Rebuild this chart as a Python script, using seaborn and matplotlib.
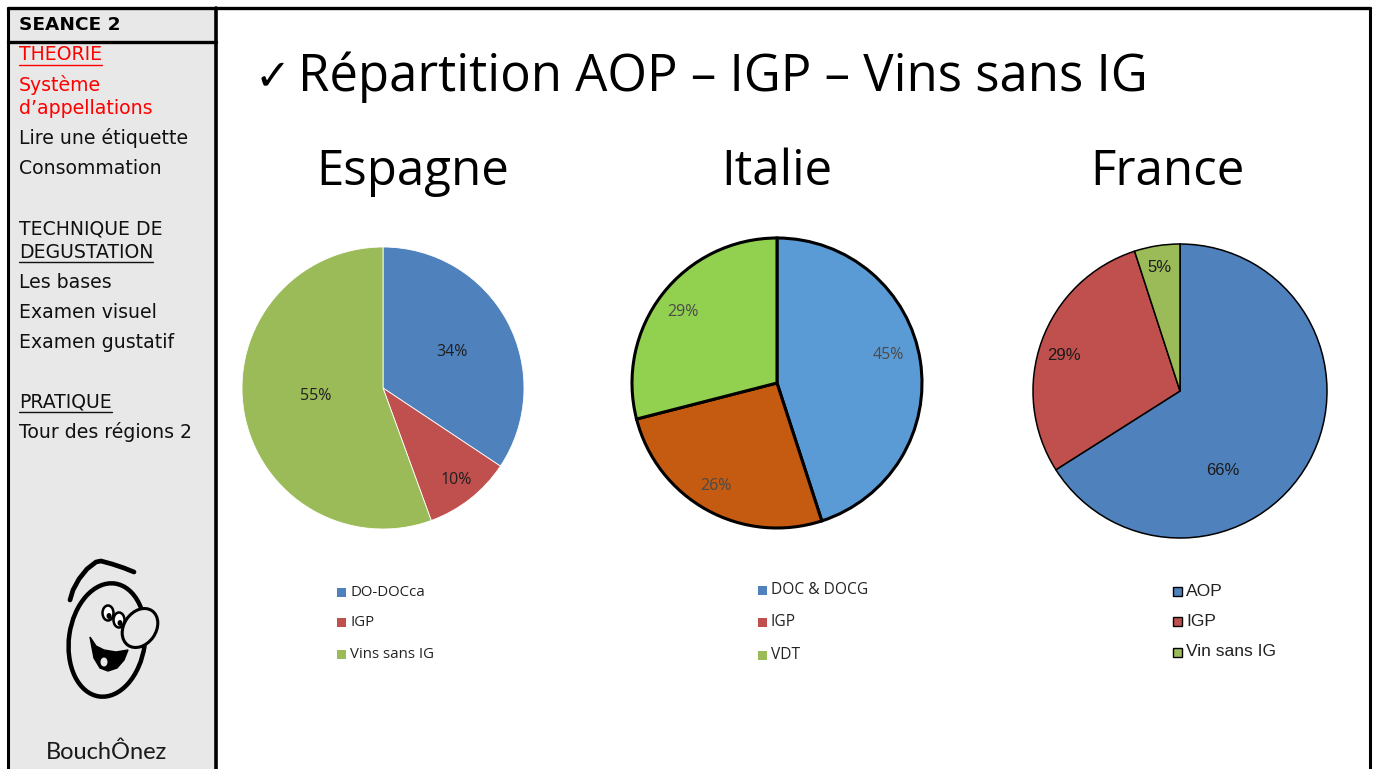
import matplotlib
matplotlib.use("Agg")
import matplotlib.pyplot as plt
from matplotlib.patches import Rectangle, Ellipse, Arc, Polygon
import seaborn as sns

sns.set_theme(style="white")
plt.rcParams['font.family'] = ['DejaVu Sans']

# ---- data ----
countries = ["Espagne", "Italie", "France"]
esp_labels = ["DO-DOCca", "IGP", "Vins sans IG"]
esp_values = [34, 10, 55]
ita_labels = ["DOC & DOCG", "IGP", "VDT"]
ita_values = [45, 26, 29]
fra_labels = ["AOP", "IGP", "Vin sans IG"]
fra_values = [66, 29, 5]

menu_items = [
    ("THEORIE", "red", True),
    ("Système", "red", False),
    ("d’appellations", "red", False),
    ("Lire une étiquette", "#111111", False),
    ("Consommation", "#111111", False),
    ("TECHNIQUE DE", "#111111", False),
    ("DEGUSTATION", "#111111", True),
    ("Les bases", "#111111", False),
    ("Examen visuel", "#111111", False),
    ("Examen gustatif", "#111111", False),
    ("PRATIQUE", "#111111", True),
    ("Tour des régions 2", "#111111", False),
]
menu_y = [55, 85, 108, 138, 168, 229, 252, 282, 312, 342, 402, 432]

W, H = 1377, 769
fig = plt.figure(figsize=(W / 100, H / 100), dpi=100)
fig.patch.set_facecolor("white")

# full-figure canvas in pixel coordinates
bg = fig.add_axes([0, 0, 1, 1])
bg.set_xlim(0, W)
bg.set_ylim(H, 0)
bg.axis("off")

# sidebar and frame
bg.add_patch(Rectangle((8, 8), 208, H, facecolor="#E8E8E8", edgecolor="none", zorder=1))
bg.plot([8, 8], [8, H], color="black", lw=2.2, zorder=3)
bg.plot([216, 216], [8, H], color="black", lw=2.6, zorder=3)
bg.plot([8, 1370], [8, 8], color="black", lw=2.4, zorder=3)
bg.plot([8, 216], [41.5, 41.5], color="black", lw=2.4, zorder=3)
bg.plot([1370, 1370], [8, H], color="black", lw=2.2, zorder=3)

bg.text(19, 25, "SEANCE 2", fontsize=13.3, fontweight="bold", va="center", ha="left",
        color="black", zorder=4)
menu_texts = []
for (txt, col, ul), y in zip(menu_items, menu_y):
    t = bg.text(19, y, txt, fontsize=13.6, va="center", ha="left", color=col, zorder=4)
    menu_texts.append((t, col, ul, y))

# mascot sketch
bg.add_patch(Ellipse((107, 640), 76, 114, angle=8, fill=False, lw=3.2, color="black", zorder=4))
hat_x = [70, 73, 79, 87, 96, 101, 112, 124, 134]
hat_y = [600, 590, 579, 569, 562, 561, 564, 568, 572]
bg.plot(hat_x, hat_y, color="black", lw=3.4, solid_capstyle="round", zorder=4)
bg.add_patch(Ellipse((140, 628), 32, 42, angle=35, facecolor="#E8E8E8", lw=2.2,
                     edgecolor="black", zorder=6))
bg.add_patch(Ellipse((108, 613), 11, 15, facecolor="white", lw=1.8, edgecolor="black", zorder=5))
bg.add_patch(Ellipse((119, 620), 11, 15, facecolor="white", lw=1.8, edgecolor="black", zorder=5))
bg.add_patch(Ellipse((109, 616), 3.5, 4.5, color="black", zorder=6))
bg.add_patch(Ellipse((120, 623), 3.5, 4.5, color="black", zorder=6))
mouth = Polygon([(90, 637), (96, 646), (104, 650), (116, 652), (128, 650), (124, 660),
                 (117, 668), (108, 671), (100, 668), (94, 658)], closed=True,
                facecolor="black", edgecolor="black", zorder=5)
bg.add_patch(mouth)
bg.add_patch(Ellipse((104, 662), 7, 9, facecolor="#E8E8E8", edgecolor="none", zorder=6))
bg.text(107, 752, "BouchÔnez", fontsize=17, family="Lato", ha="center", va="center",
        color="#1a1a1a", zorder=4)

# title
bg.text(255, 77, "✓", fontsize=31, ha="left", va="center", color="black", zorder=4,
        family=["DejaVu Sans"])
bg.text(298, 77, "Répartition AOP – IGP – Vins sans IG", fontsize=36.6, ha="left",
        va="center", color="black", family=["Open Sans", "DejaVu Sans"], zorder=4)

# pies
pies = [
    dict(name="Espagne", labels=esp_labels, values=esp_values,
         colors=["#4F81BD", "#C0504D", "#9BBB59"],
         legend_colors=["#4F81BD", "#C0504D", "#9BBB59"],
         center=(383, 388), r=141, edge="white", lw=0.6,
         lab_pos=[(0.49, 0.255), (0.52, -0.65), (-0.48, -0.06)],
         lab_color="#1F1F1F", lab_font="Open Sans", lab_size=11.5,
         title_xy=(413, 172),
         leg_x=341, leg_y=[592, 622, 654], leg_font="Open Sans", leg_size=10.8,
         leg_edge="none"),
    dict(name="Italie", labels=ita_labels, values=ita_values,
         colors=["#5B9BD5", "#C55A11", "#92D050"],
         legend_colors=["#4F81BD", "#C0504D", "#9BBB59"],
         center=(777, 383), r=145, edge="black", lw=2.2,
         lab_pos=[(0.77, 0.19), (-0.42, -0.71), (-0.65, 0.49)],
         lab_color="#4A4A4A", lab_font="Open Sans", lab_size=11.5,
         title_xy=(777, 172),
         leg_x=762, leg_y=[590, 622, 655], leg_font="Open Sans", leg_size=11.2,
         leg_edge="none"),
    dict(name="France", labels=fra_labels, values=fra_values,
         colors=["#4F81BD", "#C0504D", "#9BBB59"],
         legend_colors=["#4F81BD", "#C0504D", "#9BBB59"],
         center=(1180, 391), r=147, edge="black", lw=1.1,
         lab_pos=[(0.29, -0.54), (-0.79, 0.24), (-0.14, 0.84)],
         lab_color="#1a1a1a", lab_font="Liberation Sans", lab_size=12,
         title_xy=(1167, 172),
         leg_x=1177, leg_y=[591, 621, 652], leg_font="Liberation Sans", leg_size=12.6,
         leg_edge="black"),
]

for p in pies:
    cx, cy = p["center"]
    r = p["r"]
    pad = 1.04
    ax = fig.add_axes([(cx - r * pad) / W, 1 - (cy + r * pad) / H,
                       2 * r * pad / W, 2 * r * pad / H])
    ax.pie(p["values"], colors=p["colors"], startangle=90, counterclock=False,
           wedgeprops=dict(edgecolor=p["edge"], linewidth=p["lw"]))
    ax.set_xlim(-pad, pad)
    ax.set_ylim(-pad, pad)
    ax.set_aspect("auto")
    for v, (lx, ly) in zip(p["values"], p["lab_pos"]):
        ax.text(lx, ly, f"{v}%", ha="center", va="center", fontsize=p["lab_size"],
                color=p["lab_color"], family=p["lab_font"])
    # chart title
    bg.text(p["title_xy"][0], p["title_xy"][1], p["name"], fontsize=35.5,
            family=["Open Sans", "DejaVu Sans"], ha="center", va="center", color="black",
            zorder=4)
    # legend
    for lab, col, y in zip(p["labels"], p["legend_colors"], p["leg_y"]):
        bg.add_patch(Rectangle((p["leg_x"] - 4.5, y - 4.5), 9, 9, facecolor=col,
                               edgecolor=p["leg_edge"], lw=1.0, zorder=4))
        bg.text(p["leg_x"] + 9, y, lab, fontsize=p["leg_size"], family=p["leg_font"],
                ha="left", va="center", color="#222222", zorder=4)

# underlines under section headings
fig.canvas.draw()
renderer = fig.canvas.get_renderer()
inv = bg.transData.inverted()
for t, col, ul, y in menu_texts:
    if ul:
        bb = t.get_window_extent(renderer)
        (x0, _), (x1, _) = inv.transform([(bb.x0, bb.y0), (bb.x1, bb.y0)])
        bg.plot([x0, x1], [y + 9.5, y + 9.5], color=col, lw=1.0, zorder=4)

fig.savefig("out.png", dpi=100)
